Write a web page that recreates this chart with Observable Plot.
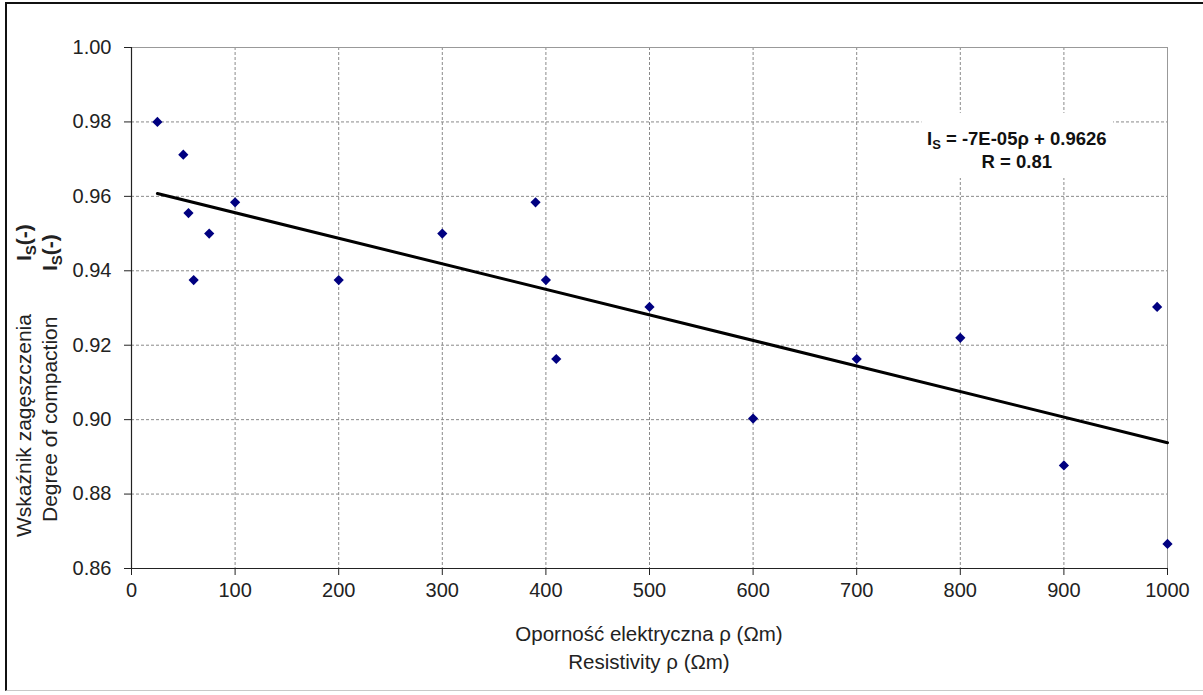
<!DOCTYPE html>
<html>
<head>
<meta charset="utf-8">
<script src="https://cdn.jsdelivr.net/npm/d3@7"></script>
<script src="https://cdn.jsdelivr.net/npm/@observablehq/plot@0.6"></script>
<style>
  body { margin: 0; background: #fff; }
  #wrap { position: relative; width: 1203px; height: 695px; overflow: hidden; background: #fff; }
  #border { position: absolute; left: 5px; top: 2px; width: 1200px; height: 689px;
            border-left: 2px solid #111; border-top: 2px solid #111; border-bottom: 1px solid #c8c8c8;
            pointer-events: none; box-sizing: border-box; }
  svg text { font-family: "Liberation Sans", Arial, sans-serif; }
</style>
</head>
<body>
<div id="wrap"><div id="border"></div></div>
<script>
// Resistivity ρ (Ωm)
const resistivity = [25, 50, 55, 60, 75, 100, 200, 300, 390, 400, 410, 500, 600, 700, 800, 900, 990, 1000];
// Degree of compaction Is (-)
const compaction = [0.980, 0.9712, 0.9555, 0.9375, 0.950, 0.9584, 0.9375, 0.950, 0.9584, 0.9375, 0.9163,
                    0.9303, 0.9003, 0.9163, 0.922, 0.8877, 0.9303, 0.8666];
const xTicks = [0, 100, 200, 300, 400, 500, 600, 700, 800, 900, 1000];
const yTicks = [0.86, 0.88, 0.90, 0.92, 0.94, 0.96, 0.98, 1.00];
const xLabelLines = ["Oporność elektryczna ρ (Ωm)", "Resistivity ρ (Ωm)"];
const yLabelLines = ["Wskaźnik zagęszczenia", "Degree of compaction"];
const equationText = " = -7E-05ρ + 0.9626";
const rText = "R = 0.81";

const data = resistivity.map((x, i) => ({x, y: compaction[i]}));

const plot = Plot.plot({
  width: 1203,
  height: 695,
  marginLeft: 131,
  marginRight: 36,
  marginTop: 47,
  marginBottom: 127,
  style: {fontFamily: "'Liberation Sans', Arial, sans-serif", fontSize: "20px", color: "#222", background: "transparent"},
  x: {domain: [0, 1000], label: null},
  y: {domain: [0.86, 1.0], label: null},
  marks: [
    Plot.gridX(xTicks, {stroke: "#8a8a8a", strokeOpacity: 1, strokeDasharray: "3,2"}),
    Plot.gridY(yTicks, {stroke: "#8a8a8a", strokeOpacity: 1, strokeDasharray: "3,2"}),
    Plot.rect([0], {x1: 763, x2: 948, y1: 0.9648, y2: 0.9823, fill: "white"}),
    Plot.ruleY([1.0], {stroke: "#999"}),
    Plot.ruleX([1000], {stroke: "#999"}),
    Plot.ruleX([0], {stroke: "#222", strokeWidth: 1.2}),
    Plot.ruleY([0.86], {stroke: "#222", strokeWidth: 1.2}),
    Plot.axisX({ticks: xTicks, tickFormat: d => String(d), tickSize: 7, tickPadding: 7, label: null, stroke: "#222"}),
    Plot.axisY({ticks: yTicks, tickFormat: d3.format(".2f"), tickSize: 7, tickPadding: 13, label: null, stroke: "#222"}),
    Plot.linearRegressionY(data, {x: "x", y: "y", stroke: "black", strokeWidth: 3, ci: 0}),
    Plot.dot(data, {x: "x", y: "y", symbol: "diamond2", r: 4.6, fill: "#000080", stroke: "none"})
  ]
});

const wrap = document.getElementById("wrap");
wrap.insertBefore(plot, wrap.firstChild);

const svg = d3.select(plot);
const sx = plot.scale("x"), sy = plot.scale("y");

// Equation annotation
const eqX = sx.apply(855);
const eq = svg.append("text").attr("x", eqX).attr("y", sy.apply(0.9737))
  .attr("text-anchor", "middle").attr("font-weight", "bold").attr("font-size", 18.5).attr("fill", "#111");
eq.append("tspan").text("I");
eq.append("tspan").attr("font-size", 13).attr("dy", 4).text("S");
eq.append("tspan").attr("dy", -4).text(equationText);
svg.append("text").attr("x", eqX).attr("y", sy.apply(0.9675))
  .attr("text-anchor", "middle").attr("font-weight", "bold").attr("font-size", 18.5).attr("fill", "#111")
  .text(rText);

// X axis title (two lines)
const xc = (sx.apply(0) + sx.apply(1000)) / 2;
xLabelLines.forEach((t, i) => {
  svg.append("text").attr("x", xc).attr("y", 641 + i * 28)
    .attr("text-anchor", "middle").attr("font-size", 20.5).attr("fill", "#222").text(t);
});

// Y axis title (two rotated lines, with bold Is(-))
function yTitle(baseX, startY, text, isStartY) {
  svg.append("text").attr("transform", `translate(${baseX},${startY}) rotate(-90)`)
    .attr("text-anchor", "start").attr("font-size", 21).attr("fill", "#222").text(text);
  const t = svg.append("text").attr("transform", `translate(${baseX},${isStartY}) rotate(-90)`)
    .attr("text-anchor", "start").attr("font-size", 21).attr("font-weight", "bold").attr("fill", "#222");
  t.append("tspan").text("I");
  t.append("tspan").attr("font-size", 15).attr("dy", 5).text("S");
  t.append("tspan").attr("dy", -5).text("(-)");
}
yTitle(31, 537, yLabelLines[0], 261);
yTitle(57, 522, yLabelLines[1], 271);
</script>
</body>
</html>
